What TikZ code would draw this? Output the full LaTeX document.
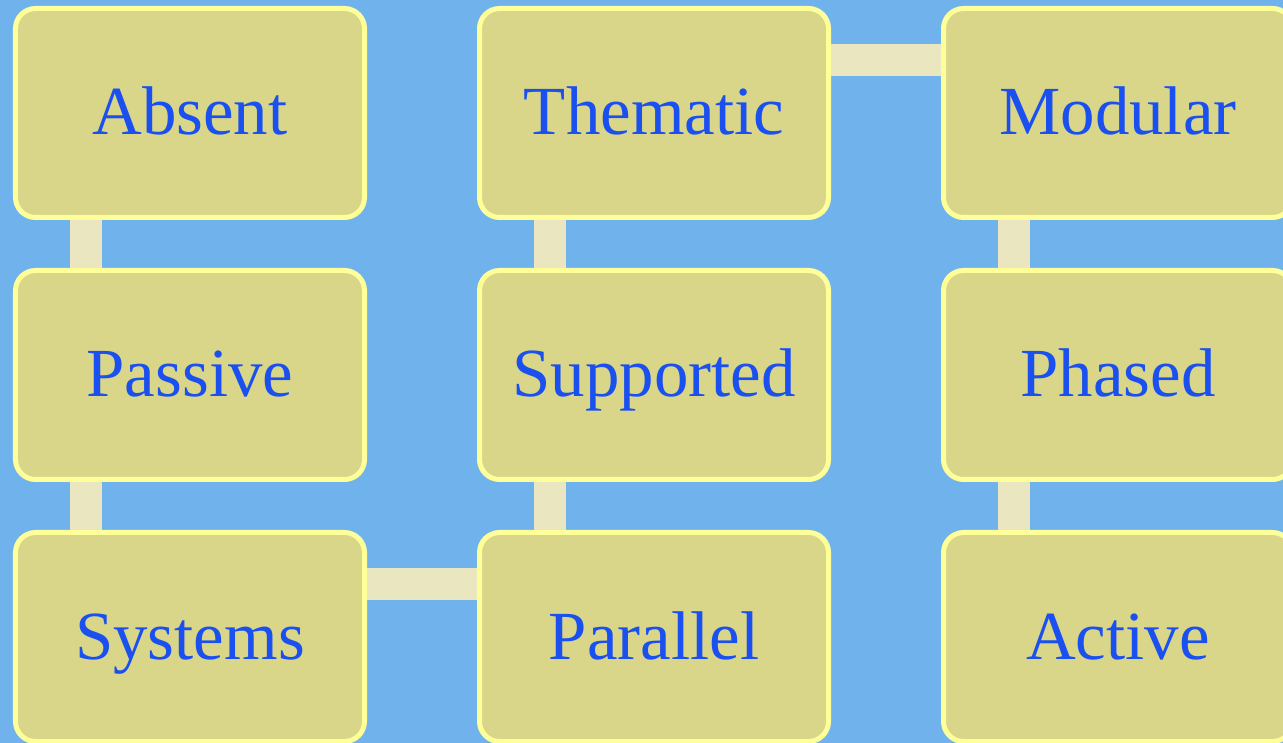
\documentclass[tikz,border=0pt]{standalone}
\usepackage{fontspec}
\setmainfont{Liberation Serif}
\usetikzlibrary{positioning}
\definecolor{skyblue}{HTML}{70B2EC}
\definecolor{boxfill}{HTML}{D9D689}
\definecolor{boxline}{HTML}{FFFF99}
\definecolor{linkfill}{HTML}{EAE6C0}
\definecolor{textblue}{HTML}{1A4FF0}

\begin{document}
\begin{tikzpicture}[
	    SCblock/.style= {
	        draw=boxline, fill=boxfill,
	        line width=0.05cm, rounded corners=0.2cm,
	        minimum width=3.49cm, minimum height=2.09cm,
	        text height=0.6cm, text depth=0.16cm,
	        text=textblue, font=\fontsize{19.6}{24}\selectfont},
	    SClink/.style= {linkfill, line width=0.32cm},
	    node distance=0.48cm and 1.10cm]

		% Background
		\fill[skyblue] (0,0) rectangle (12.83,-7.43);
		\clip (0,0) rectangle (12.83,-7.43);

		% Blocks
		\node [SCblock] (absent) at (1.90,-1.13) {Absent};
		\node [SCblock] (passive) [below=of absent] {Passive};
		\node [SCblock] (systems) [below=of passive] {Systems};
		\node [SCblock] (thematic) [right=of absent] {Thematic};
		\node [SCblock] (supported) [below=of thematic] {Supported};
		\node [SCblock] (parallel) [below=of supported] {Parallel};
		\node [SCblock] (modular) [right=of thematic] {Modular};
		\node [SCblock] (phased) [below=of modular] {Phased};
		\node [SCblock] (active) [below=of phased] {Active};

		% Links
		\draw[SClink]
		    ([xshift=-1.04cm]absent.south) edge ([xshift=-1.04cm]passive.north)
		    ([xshift=-1.04cm]passive.south) edge ([xshift=-1.04cm]systems.north)
		    ([yshift=0.53cm]systems.east) edge ([yshift=0.53cm]parallel.west)
		    ([xshift=-1.04cm]parallel.north) edge ([xshift=-1.04cm]supported.south)
		    ([xshift=-1.04cm]supported.north) edge ([xshift=-1.04cm]thematic.south)
		    ([yshift=0.53cm]thematic.east) edge ([yshift=0.53cm]modular.west)
		    ([xshift=-1.04cm]modular.south) edge ([xshift=-1.04cm]phased.north)
		    ([xshift=-1.04cm]phased.south) edge ([xshift=-1.04cm]active.north);

	\end{tikzpicture}
\end{document}
